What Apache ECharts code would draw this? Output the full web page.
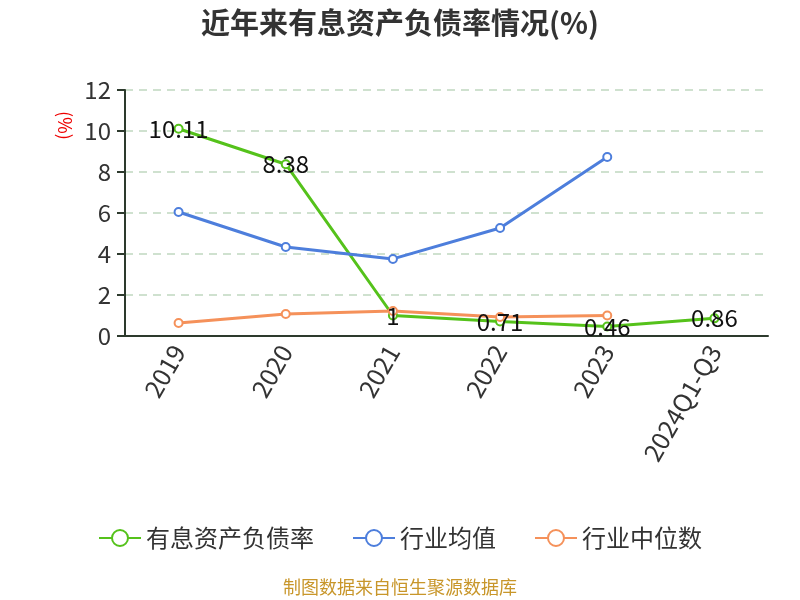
<!DOCTYPE html>
<html><head><meta charset="utf-8">
<script src="https://cdn.jsdelivr.net/npm/echarts@6/dist/echarts.min.js"></script>
<style>html,body{margin:0;padding:0;background:#fff}#c{width:800px;height:600px}</style>
</head><body><div id="c"></div>
<script>
const categories = ['2019','2020','2021','2022','2023','2024Q1-Q3'];
const ratioValues = [10.11, 8.38, 1, 0.71, 0.46, 0.86];
const industryMean = [6.05, 4.34, 3.76, 5.27, 8.73, null];
const industryMedian = [0.63, 1.07, 1.22, 0.93, 1.0, null];
const yTicks = {min:0, max:12, interval:2};

const chart = echarts.init(document.getElementById('c'));
const font = "'Microsoft YaHei','Noto Sans CJK SC',sans-serif";
chart.setOption({
  animation:false,
  textStyle:{fontFamily:font},
  title:{text:'近年来有息资产负债率情况(%)', left:'center', top:3,
    textStyle:{fontSize:29, fontWeight:'bold', color:'#333', fontFamily:font}},
  graphic:[
    {type:'text', left:'center', top:578, style:{text:'制图数据来自恒生聚源数据库', fill:'#c8962a', fontSize:18, fontFamily:font}},
    {type:'text', x:74, y:111, rotation:-Math.PI/2, style:{text:'(%)', fill:'#e00', fontSize:18, fontFamily:font}}
  ],
  legend:{bottom:45, left:'center', itemWidth:42, itemHeight:20, itemGap:38,
    textStyle:{fontSize:24, color:'#333', fontFamily:font},
    data:['有息资产负债率','行业均值','行业中位数']},
  grid:{left:125, right:32, top:90, bottom:264},
  xAxis:{type:'category', data:categories, boundaryGap:true,
    axisLine:{lineStyle:{color:'#2d3a2d', width:2}},
    axisTick:{length:7, lineStyle:{color:'#2d3a2d', width:2}},
    axisLabel:{rotate:60, fontSize:25, color:'#333', margin:11}},
  yAxis:{type:'value', min:yTicks.min, max:yTicks.max, interval:yTicks.interval,
    axisLine:{show:true, lineStyle:{color:'#2d3a2d', width:2}},
    axisTick:{show:true, length:8, lineStyle:{color:'#2d3a2d', width:2}},
    axisLabel:{fontSize:24, color:'#333', margin:14},
    splitLine:{lineStyle:{type:[8,6], color:'#c0d8c0', width:1.5}}},
  series:[
    {name:'有息资产负债率', type:'line', data:ratioValues, symbol:'emptyCircle', symbolSize:8,
      z:3, itemStyle:{color:'#55c21b'}, lineStyle:{width:3, color:'#55c21b'},
      label:{show:true, position:'inside', fontSize:24, color:'#111'}},
    {name:'行业均值', type:'line', data:industryMean, symbol:'emptyCircle', symbolSize:8,
      itemStyle:{color:'#4d7edc'}, lineStyle:{width:3, color:'#4d7edc'}},
    {name:'行业中位数', type:'line', data:industryMedian, symbol:'emptyCircle', symbolSize:8,
      itemStyle:{color:'#f5915a'}, lineStyle:{width:3, color:'#f5915a'}}
  ]
});
</script></body></html>
